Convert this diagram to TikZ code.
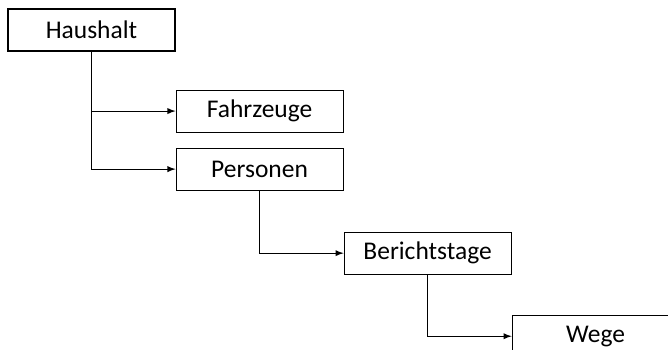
\documentclass[tikz,border=0pt]{standalone}
\usepackage{fontspec}
\setmainfont{Carlito}
\usepackage{tikz}
\usetikzlibrary{shapes,arrows,positioning,calc}

\tikzset{
  table/.style={rectangle, draw=black, line width=0.6pt, minimum width=3.34cm, minimum height=0.84cm, text centered, font=\fontsize{14.5}{17}\selectfont},
  link/.style={draw=black, line width=0.6pt, -latex}
}

\begin{document}
\begin{tikzpicture}
    \clip (0,0) rectangle (13.36,-6.98);
    \node (haushalt) [table] at (1.83,-0.6) {Haushalt};
    \node (fahrzeuge) [table, below right=0.76cm and 0cm of haushalt.south east, anchor=north west] {Fahrzeuge};
    \node (personen) [table, below=0.3cm of fahrzeuge] {Personen};
    \node (berichtstage) [table, below right=0.82cm and 0cm of personen.south east, anchor=north west] {Berichtstage};
    \node (wege) [table, below right=0.8cm and 0cm of berichtstage.south east, anchor=north west] {Wege};
    % hierarchy links
    \draw [link] (haushalt.south) |- (fahrzeuge.west);
    \draw [link] (haushalt.south) |- (personen.west);
    \draw [link] (personen.south) |- (berichtstage.west);
    \draw [link] (berichtstage.south) |- (wege.west);
\end{tikzpicture}
\end{document}
